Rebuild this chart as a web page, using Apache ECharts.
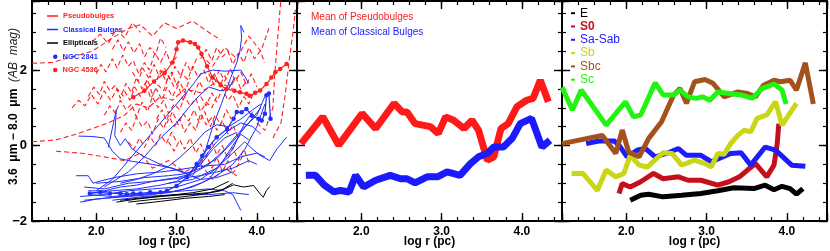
<!DOCTYPE html>
<html><head><meta charset="utf-8">
<script src="https://cdn.jsdelivr.net/npm/echarts@6/dist/echarts.min.js"></script>
<style>html,body{margin:0;padding:0;background:#fff}#c{width:830px;height:251px}</style>
</head><body><div id="c"></div>
<script>
// ---------------- DATA ----------------
// Panel 1: individual profiles  [log r, colour]
const pseudobulgeLines = [
  [[1.2,2.18],[1.45,2.2],[1.7,2.35],[1.95,2.5],[2.2,2.85],[2.4,3.1],[2.55,3.2],[2.7,2.9],[2.85,3.25],[3.0,3.1],[3.2,3.3],[3.4,3.0],[3.55,2.8]],
  [[1.2,0.1],[1.5,0.15],[1.75,0.3],[1.95,0.45],[2.15,0.6],[2.35,0.8],[2.5,1.1],[2.65,1.0],[2.8,1.3],[2.95,1.2],[3.1,1.5],[3.3,1.4],[3.5,1.7],[3.7,1.5]],
  [[1.5,-0.15],[1.8,-0.2],[2.1,-0.3],[2.35,-0.4],[2.55,-0.2],[2.7,-0.6],[2.9,-0.4],[3.1,-0.7],[3.3,-0.5],[3.45,-0.9],[3.6,-0.6],[3.75,-0.8]],
  [[2.0,1.9],[2.06,2.15],[2.12,1.95],[2.2,2.3],[2.26,2.05],[2.33,2.4],[2.4,2.1],[2.46,2.25],[2.53,1.9],[2.6,2.2],[2.66,2.0],[2.73,2.45],[2.8,2.2],[2.87,2.5],[2.93,2.15],[3.0,2.35]],
  [[1.9,1.3],[1.97,1.55],[2.04,1.35],[2.1,1.7],[2.17,1.45],[2.24,1.6],[2.3,1.25],[2.37,1.65],[2.44,1.4],[2.5,1.8],[2.57,1.5],[2.64,1.75],[2.7,1.35],[2.77,1.6],[2.84,1.45],[2.9,1.85],[2.97,1.55],[3.04,1.7],[3.1,1.4],[3.17,1.8]],
  [[2.1,0.8],[2.17,1.05],[2.24,0.85],[2.3,1.2],[2.37,0.95],[2.44,1.1],[2.5,0.75],[2.57,1.15],[2.64,0.9],[2.7,1.3],[2.77,1.0],[2.84,1.2],[2.9,0.85],[2.97,1.1],[3.04,0.95],[3.1,1.3],[3.17,1.05],[3.24,1.25],[3.3,0.9],[3.37,1.15],[3.44,1.0],[3.5,1.3]],
  [[2.3,0.35],[2.37,0.6],[2.44,0.4],[2.5,0.75],[2.57,0.5],[2.64,0.65],[2.7,0.3],[2.77,0.7],[2.84,0.45],[2.9,0.8],[2.97,0.5],[3.04,0.7],[3.1,0.35],[3.17,0.6],[3.24,0.4],[3.3,0.85],[3.37,0.55],[3.44,0.75],[3.5,0.4],[3.57,0.65],[3.64,0.3],[3.7,0.55],[3.77,0.2]],
  [[2.6,1.6],[2.67,1.85],[2.74,1.65],[2.8,2.0],[2.87,1.7],[2.94,1.95],[3.0,1.6],[3.07,1.9],[3.14,1.75],[3.2,2.1],[3.27,1.8],[3.34,2.0],[3.4,1.65],[3.47,1.9],[3.54,1.6],[3.6,1.85],[3.67,1.55],[3.74,1.8],[3.8,1.5],[3.87,1.7]],
  [[2.2,2.55],[2.27,2.8],[2.34,2.5],[2.4,2.75],[2.47,2.45],[2.54,2.7],[2.6,2.35],[2.67,2.6],[2.74,2.4],[2.8,2.85],[2.87,2.6]],
  [[3.3,2.3],[3.37,2.55],[3.44,2.25],[3.5,2.6],[3.57,2.35],[3.64,2.5],[3.7,2.15],[3.77,2.45],[3.84,2.2],[3.9,2.6],[3.97,2.3],[4.04,2.5],[4.1,2.2]],
  [[3.3,1.3],[3.37,1.05],[3.44,1.4],[3.5,1.15],[3.57,1.5],[3.64,1.2],[3.7,1.35],[3.77,1.0],[3.84,1.3],[3.9,1.1],[3.97,1.45]],
  [[2.9,0.1],[2.97,-0.15],[3.04,0.15],[3.1,-0.1],[3.17,0.2],[3.24,-0.2],[3.3,0.05],[3.37,-0.3],[3.44,0.1],[3.5,-0.25],[3.57,0.0],[3.64,-0.35],[3.7,-0.05],[3.77,-0.4],[3.84,-0.1],[3.9,-0.45]],
  [[1.7,1.0],[1.78,1.2],[1.86,1.05],[1.94,1.35],[2.02,1.1],[2.1,1.45],[2.18,1.2],[2.26,1.5],[2.34,1.3]],
  [[1.95,2.75],[2.05,2.95],[2.15,2.7],[2.25,3.1],[2.35,2.85],[2.45,3.25],[2.55,3.0]],
  [[3.3,-0.5],[3.37,-0.25],[3.44,-0.6],[3.5,-0.3],[3.57,-0.7],[3.64,-0.4],[3.7,-0.75],[3.77,-0.5],[3.84,-0.2]],
  [[2.4,0.1],[2.47,-0.1],[2.54,0.2],[2.6,-0.05],[2.67,0.25],[2.74,0.0],[2.8,0.3],[2.87,0.05],[2.94,0.35],[3.0,0.1]],
  [[2.35,1.45],[2.42,1.2],[2.48,1.55],[2.55,1.3],[2.62,1.6],[2.68,1.25],[2.75,1.5],[2.82,1.2],[2.88,1.55],[2.95,1.3],[3.02,1.6],[3.08,1.2],[3.15,1.5],[3.22,1.35],[3.28,1.7],[3.35,1.45]],
  [[2.75,0.7],[2.82,0.95],[2.88,0.6],[2.95,0.9],[3.02,0.55],[3.08,0.85],[3.15,0.65],[3.22,0.95],[3.28,0.6],[3.35,0.9],[3.42,0.5],[3.48,0.8],[3.55,0.55],[3.62,0.95],[3.68,0.7]],
  [[2.45,1.95],[2.52,1.7],[2.58,2.05],[2.65,1.8],[2.72,2.15],[2.78,1.85],[2.85,2.05],[2.92,1.75],[2.98,2.1],[3.05,1.85],[3.12,2.2],[3.18,1.95],[3.25,2.3]],
  [[3.4,1.9],[3.47,1.6],[3.53,2.0],[3.6,1.7],[3.67,2.05],[3.73,1.7],[3.8,1.95],[3.87,1.6],[3.93,1.9],[4.0,1.55]],
  [[4.0,0.6],[4.1,0.4],[4.2,1.0],[4.22,1.8],[4.25,2.6],[4.28,3.4],[4.3,3.85]],
  [[4.2,0.2],[4.3,0.6],[4.35,1.3],[4.4,2.2],[4.45,3.0],[4.48,3.6]],
  [[3.3,2.4],[3.45,2.1],[3.6,2.6],[3.75,2.3],[3.9,2.9],[4.05,2.5],[4.15,3.1]]
];
const classicalBulgeLines = [
  [[1.8,-1.5],[2.0,-1.42],[2.3,-1.35],[2.6,-1.3],[2.9,-1.25],[3.1,-1.15],[3.3,-1.0],[3.5,-0.8],[3.7,-0.5],[3.85,-0.1],[4.0,0.5],[4.1,1.1]],
  [[1.8,-1.35],[2.1,-1.3],[2.4,-1.2],[2.7,-1.15],[3.0,-1.1],[3.3,-0.9],[3.5,-0.6],[3.7,-0.1],[3.85,0.6],[3.95,0.9]],
  [[1.85,-1.1],[2.1,-1.15],[2.4,-1.0],[2.7,-0.95],[3.0,-0.85],[3.2,-0.75],[3.4,-0.5],[3.6,-0.1],[3.8,0.4],[4.0,0.8],[4.1,1.3]],
  [[2.0,-1.0],[2.3,-0.95],[2.6,-0.85],[2.9,-0.8],[3.1,-0.75],[3.3,-0.6],[3.5,-0.35],[3.7,0.1],[3.9,0.6],[4.05,1.0]],
  [[1.75,-0.8],[1.9,-0.8],[1.96,-1.0],[2.07,-0.93],[2.25,-0.84],[2.5,-0.75],[2.8,-0.7],[3.0,-0.65],[3.3,-0.55],[3.6,-0.5],[3.8,-0.3],[4.0,-0.2],[4.1,-0.3]],
  [[1.9,-1.3],[2.2,-1.35],[2.5,-1.3],[2.8,-1.25],[3.1,-1.2],[3.4,-1.15],[3.6,-1.2],[3.7,-1.3],[3.8,-1.72]],
  [[2.2,-1.45],[2.6,-1.35],[3.0,-1.3],[3.4,-1.3],[3.7,-1.25],[3.9,-1.3]],
  [[1.78,0.25],[1.95,0.24],[2.1,0.2],[2.2,-0.15],[2.3,-0.35],[2.45,-0.42],[2.7,-0.5],[2.95,-0.6],[3.15,-0.75],[3.3,-0.5],[3.45,-0.1],[3.6,0.2],[3.75,0.35]],
  [[2.15,-0.05],[2.25,0.95],[2.23,0.26],[2.3,0.0],[2.36,0.18],[2.45,-0.1],[2.6,-0.3],[2.8,-0.5],[3.0,-0.65],[3.15,-0.78],[3.3,-0.9],[3.5,-0.85],[3.7,-0.7]],
  [[2.0,-1.2],[2.2,-0.9],[2.4,-0.4],[2.6,0.1],[2.8,0.6],[3.0,1.1],[3.2,1.6],[3.3,1.9],[3.45,2.0],[3.6,1.97],[3.8,2.0],[3.9,1.65]],
  [[2.1,-1.1],[2.4,-0.7],[2.6,-0.3],[2.8,0.2],[3.0,0.6],[3.15,1.0],[3.25,1.25],[3.4,1.55],[3.55,1.45],[3.65,1.5],[3.72,1.8]],
  [[3.2,-0.8],[3.35,-0.2],[3.45,0.5],[3.56,1.11],[3.67,1.77],[3.75,2.2],[3.79,2.52],[3.81,2.85],[3.8,3.18],[3.84,3.0]],
  [[2.9,-1.0],[3.2,-0.9],[3.5,-0.6],[3.7,-0.2],[3.85,0.1],[3.95,-0.1],[4.04,-0.26],[4.16,-0.4],[4.25,-0.09],[4.37,0.22]],
  [[1.9,-1.2],[2.1,-1.2],[2.3,-1.1],[2.5,-1.05],[2.7,-0.95],[2.9,-0.9],[3.1,-0.85],[3.3,-0.8],[3.5,-0.7],[3.7,-0.6],[3.9,-0.4],[4.0,-0.5]],
  [[1.95,-1.25],[2.2,-1.2],[2.5,-1.15],[2.8,-1.05],[3.0,-0.95],[3.2,-0.7],[3.35,-0.3],[3.5,0.1],[3.65,0.4],[3.8,0.6],[3.95,0.5],[4.05,0.3]],
  [[1.85,-1.45],[2.1,-1.4],[2.4,-1.35],[2.7,-1.3],[3.0,-1.2],[3.2,-1.1],[3.4,-0.9],[3.55,-0.5],[3.7,0.0],[3.8,0.3],[3.9,0.15]],
  [[2.3,-1.0],[2.5,-0.9],[2.7,-0.75],[2.9,-0.55],[3.05,-0.3],[3.2,0.0],[3.35,0.35],[3.5,0.55],[3.65,0.5],[3.8,0.7],[3.95,0.95],[4.05,1.1]]
];
const ellipticalLines = [
  [[2.25,-1.5],[2.5,-1.42],[2.8,-1.35],[3.1,-1.3],[3.4,-1.25],[3.6,-1.15],[3.71,-1.04],[3.83,-1.1],[3.96,-1.06],[4.04,-1.28],[4.08,-1.37],[4.12,-1.19],[4.16,-1.09]],
  [[2.3,-1.45],[2.6,-1.38],[2.9,-1.32],[3.2,-1.25],[3.45,-1.15],[3.65,-0.95]],
  [[2.4,-1.5],[2.7,-1.43],[3.0,-1.38],[3.3,-1.3],[3.55,-1.2],[3.7,-1.0]],
  [[2.5,-1.55],[2.8,-1.48],[3.1,-1.4],[3.4,-1.35],[3.6,-1.3]]
];
const ngc2841 = [[1.92,-1.27],[2.05,-1.24],[2.17,-1.27],[2.30,-1.27],[2.38,-1.29],[2.46,-1.27],[2.55,-1.27],[2.67,-1.24],[2.80,-1.24],[2.88,-1.20],[3.00,-1.07],[3.13,-0.84],[3.25,-0.49],[3.32,-0.27],[3.40,-0.04],[3.50,0.22],[3.63,0.44],[3.71,0.71],[3.75,0.89],[3.81,0.88],[3.87,0.97],[3.94,0.79],[4.02,0.71],[4.06,0.66],[4.10,0.84],[4.12,1.33],[4.15,1.38],[4.17,0.71]];
const ngc4536 = [[2.46,1.28],[2.6,1.45],[2.72,1.7],[2.85,1.92],[2.95,2.2],[3.0,2.55],[3.02,2.74],[3.08,2.78],[3.17,2.74],[3.23,2.69],[3.27,2.6],[3.31,2.43],[3.38,2.1],[3.45,1.8],[3.55,1.6],[3.62,1.5],[3.72,1.45],[3.79,1.41],[3.87,1.37],[3.91,1.32],[3.98,1.4],[4.04,1.46],[4.12,1.63],[4.18,1.8],[4.23,1.94],[4.29,2.03],[4.37,2.16]];

// Panel 2: means
const meanPseudo = [[1.25,0.05],[1.52,0.76],[1.72,0.01],[2.01,0.85],[2.18,0.45],[2.41,1.12],[2.51,0.89],[2.57,0.89],[2.67,0.58],[2.86,0.50],[2.96,0.32],[3.05,0.76],[3.15,0.67],[3.28,0.45],[3.38,0.67],[3.46,0.41],[3.57,-0.39],[3.65,-0.30],[3.74,0.45],[3.83,0.58],[3.94,1.03],[4.06,1.20],[4.14,1.25],[4.23,1.73],[4.33,1.16]];
const meanClassical = [[1.31,-0.79],[1.43,-0.79],[1.54,-1.05],[1.66,-1.23],[1.74,-1.19],[1.85,-1.23],[1.93,-0.79],[2.03,-1.10],[2.18,-0.92],[2.36,-0.79],[2.49,-0.88],[2.57,-0.88],[2.67,-0.99],[2.82,-0.83],[2.95,-0.83],[3.07,-0.70],[3.23,-0.79],[3.36,-0.48],[3.46,-0.30],[3.57,-0.21],[3.65,-0.04],[3.77,-0.04],[3.88,0.19],[3.98,0.58],[4.12,0.72],[4.25,-0.04],[4.35,0.14]];

// Panel 3: by Hubble type
const typeE = [[2.05,-1.45],[2.18,-1.32],[2.28,-1.29],[2.46,-1.36],[2.69,-1.32],[2.93,-1.27],[3.14,-1.20],[3.34,-1.12],[3.59,-1.14],[3.73,-1.05],[3.84,-1.17],[3.94,-1.08],[4.04,-1.14],[4.12,-1.29],[4.20,-1.14]];
const typeS0 = [[1.91,-1.27],[1.95,-1.01],[2.05,-1.10],[2.18,-0.96],[2.34,-0.74],[2.46,-0.88],[2.65,-0.83],[2.77,-0.92],[2.93,-0.92],[3.14,-1.05],[3.28,-0.96],[3.41,-0.83],[3.51,-0.65],[3.61,-0.48],[3.75,-0.83],[3.84,-0.52],[3.88,0.05],[3.90,0.58]];
const typeSaSab = [[1.50,0.05],[1.66,0.12],[1.85,0.12],[1.91,0.01],[2.01,-0.30],[2.14,-0.12],[2.24,-0.08],[2.36,-0.30],[2.50,-0.21],[2.65,-0.08],[2.75,-0.26],[2.93,-0.26],[3.06,-0.43],[3.20,-0.30],[3.30,-0.21],[3.43,-0.19],[3.55,-0.52],[3.73,-0.04],[3.86,-0.12],[4.06,-0.52],[4.23,-0.55]];
const typeSb = [[1.32,-0.74],[1.46,-0.74],[1.64,-1.19],[1.75,-0.65],[1.87,-0.83],[1.97,-0.74],[2.05,-0.26],[2.16,-0.52],[2.26,-0.57],[2.46,-0.19],[2.57,-0.21],[2.69,-0.52],[2.85,-0.39],[2.98,-0.48],[3.06,-0.57],[3.14,-0.21],[3.22,-0.23],[3.30,0.05],[3.39,0.27],[3.47,0.41],[3.55,0.36],[3.63,0.72],[3.75,0.81],[3.86,1.16],[3.94,0.54],[4.12,1.12]];
const typeSbc = [[1.20,0.05],[1.70,0.27],[1.87,-0.21],[1.95,0.41],[2.03,-0.17],[2.16,-0.30],[2.28,0.19],[2.44,0.63],[2.59,1.34],[2.67,1.51],[2.75,1.12],[2.85,1.69],[2.98,1.75],[3.08,1.65],[3.22,1.29],[3.39,1.42],[3.51,1.38],[3.61,1.29],[3.71,1.60],[3.84,1.73],[3.92,1.69],[4.04,1.73],[4.12,1.47],[4.23,2.19],[4.33,1.10]];
const typeSc = [[1.20,1.54],[1.33,0.94],[1.44,1.47],[1.75,0.54],[1.99,1.16],[2.09,0.76],[2.18,0.81],[2.36,1.66],[2.46,1.34],[2.59,1.34],[2.67,1.47],[2.77,1.29],[2.87,1.25],[2.95,1.29],[3.04,1.20],[3.14,1.42],[3.28,1.38],[3.43,1.34],[3.57,1.25],[3.69,1.51],[3.84,1.63],[3.94,1.47],[3.99,1.10]];

const xTickLabels = ['2.0','3.0','4.0'];
const yTickLabels = {'-2':'\u22122','0':'0','2':'2'};

// ---------------- LAYOUT ----------------
const X_MIN = 1.2, X_MAX = 4.5, Y_MIN = -2, Y_MAX = 3.83;
const PANEL_LEFT = [32, 297, 562], PANEL_W = 265, PANEL_TOP = 1, PANEL_H = 220;
const FONT = '"Liberation Sans", Arial, Helvetica, sans-serif';
const RED = '#ff1f1f', BLUE = '#1f2dff', BLACK = '#000000';
const C_E = '#000000', C_S0 = '#c3101c', C_SA = '#1c1cff', C_SB = '#c9d616', C_SBC = '#a4521c', C_SC = '#22f411';

const grids = [], xAxes = [], yAxes = [], series = [], idx = [];
const lineAx = {show:true, onZero:false, lineStyle:{color:'#000', width:2}};
const tickMinor = {show:true, inside:true, length:4, lineStyle:{color:'#000', width:1.2}};
const tickMajor = {show:true, inside:true, length:8, lineStyle:{color:'#000', width:1.4}};

PANEL_LEFT.forEach((L, p) => {
  const gBase = {top:PANEL_TOP, height:PANEL_H, containLabel:false, outerBoundsMode:'none'};
  const gA = grids.length; grids.push(Object.assign({left:L, width:PANEL_W}, gBase));
  const gB = grids.length; grids.push(Object.assign({left:L, width:PANEL_W}, gBase));
  const cLeft = L + (2 - X_MIN) * PANEL_W / (X_MAX - X_MIN);
  const gC = grids.length; grids.push(Object.assign({left:cLeft, width:L + PANEL_W - cLeft}, gBase));

  const xi = xAxes.length;
  xAxes.push({type:'value', gridIndex:gA, position:'bottom', min:X_MIN, max:X_MAX, interval:0.2,
    axisLine:lineAx, axisTick:tickMinor, axisLabel:{show:false}, splitLine:{show:false},
    name:'log r (pc)', nameLocation:'middle', nameGap:15,
    nameTextStyle:{fontFamily:FONT, fontSize:12, fontWeight:'bold', color:'#000'}});
  xAxes.push({type:'value', gridIndex:gA, position:'top', min:X_MIN, max:X_MAX, interval:0.2,
    axisLine:lineAx, axisTick:tickMinor, axisLabel:{show:false}, splitLine:{show:false}});
  const yi = yAxes.length;
  const yA = {type:'value', gridIndex:gA, position:'left', min:Y_MIN, max:Y_MAX, interval:0.5,
    axisLine:lineAx, axisTick:tickMinor, axisLabel:{show:false}, splitLine:{show:false}};
  if (p === 0) {
    Object.assign(yA, {
      name:'{s| }{a|3.6  \u03bcm \u2212 8.0  \u03bcm}  {b|(AB  mag)}', nameLocation:'middle', nameGap:12,
      nameTextStyle:{color:'#000', rich:{
        s:{width:9},
        a:{fontFamily:FONT, fontSize:12, fontWeight:'bold', color:'#000'},
        b:{fontFamily:FONT, fontSize:12, fontStyle:'italic', color:'#222'}}}
    });
  }
  yAxes.push(yA);
  yAxes.push({type:'value', gridIndex:gA, position:'right', min:Y_MIN, max:Y_MAX, interval:0.5,
    axisLine:lineAx, axisTick:tickMinor, axisLabel:{show:false}, splitLine:{show:false}});

  // grid B: major y ticks
  xAxes.push({type:'value', gridIndex:gB, min:X_MIN, max:X_MAX, show:false});
  yAxes.push({type:'value', gridIndex:gB, position:'left', min:Y_MIN, max:Y_MAX, interval:2,
    axisLine:{show:false, onZero:false}, axisTick:tickMajor, splitLine:{show:false},
    axisLabel:{show:p === 0, margin:5, fontFamily:FONT, fontSize:13, fontWeight:'bold', color:'#000',
      formatter:v => { const k = String(Math.round(v*100)/100); return yTickLabels[k] || ''; }}});
  yAxes.push({type:'value', gridIndex:gB, position:'right', min:Y_MIN, max:Y_MAX, interval:2,
    axisLine:{show:false, onZero:false}, axisTick:tickMajor, axisLabel:{show:false}, splitLine:{show:false}});

  // grid C: major x ticks + labels
  xAxes.push({type:'value', gridIndex:gC, position:'bottom', min:2, max:X_MAX, interval:1,
    axisLine:{show:false, onZero:false}, axisTick:tickMajor, splitLine:{show:false},
    axisLabel:{margin:5, fontFamily:FONT, fontSize:12, fontWeight:'bold', color:'#000',
      formatter:v => { const i = Math.round(v) - 2; return (Math.abs(v - Math.round(v)) < 1e-6 && xTickLabels[i]) ? xTickLabels[i] : ''; }}});
  xAxes.push({type:'value', gridIndex:gC, position:'top', min:2, max:X_MAX, interval:1,
    axisLine:{show:false, onZero:false}, axisTick:tickMajor, axisLabel:{show:false}, splitLine:{show:false}});
  yAxes.push({type:'value', gridIndex:gC, min:Y_MIN, max:Y_MAX, show:false});

  idx.push({x:xi, y:yi});
});

function addLine(p, name, data, color, width, extra) {
  series.push(Object.assign({
    type:'line', name, data, xAxisIndex:idx[p].x, yAxisIndex:idx[p].y,
    symbol:'none', showSymbol:false, clip:true, silent:true, animation:false,
    lineStyle:{color, width}, itemStyle:{color}
  }, extra || {}));
}

// Panel 1
pseudobulgeLines.forEach(d => addLine(0, 'Pseudobulges', d, RED, 1.1, {lineStyle:{color:RED, width:1.1, type:[5,3]}}));
classicalBulgeLines.forEach(d => addLine(0, 'Classical Bulges', d, BLUE, 1));
ellipticalLines.forEach(d => addLine(0, 'Ellipticals', d, BLACK, 1));
addLine(0, 'NGC 2841', ngc2841, BLUE, 1.2, {symbol:'circle', showSymbol:true, symbolSize:4.5});
addLine(0, 'NGC 4536', ngc4536, RED, 1.2, {symbol:'circle', showSymbol:true, symbolSize:4.5});
// Panel 2
addLine(1, 'Mean of Pseudobulges', meanPseudo, '#ff1a1a', 7);
addLine(1, 'Mean of Classical Bulges', meanClassical, '#1a1aff', 7);
// Panel 3
addLine(2, 'E', typeE, C_E, 5);
addLine(2, 'S0', typeS0, C_S0, 5);
addLine(2, 'Sa-Sab', typeSaSab, C_SA, 5);
addLine(2, 'Sb', typeSb, C_SB, 5);
addLine(2, 'Sbc', typeSbc, C_SBC, 5);
addLine(2, 'Sc', typeSc, C_SC, 5);

const li = (name, color, extra) => Object.assign({name, textStyle:{color}, itemStyle:{color}}, extra || {});
const legBase = {orient:'vertical', padding:0, selectedMode:false, icon:'rect'};
const option = {
  backgroundColor:'#ffffff',
  animation:false,
  grid:grids, xAxis:xAxes, yAxis:yAxes, series,
  legend:[
    Object.assign({}, legBase, {left:47, top:11, itemWidth:11, itemHeight:1.5, itemGap:3.5,
      textStyle:{fontFamily:FONT, fontSize:7.5, fontWeight:'bold', lineHeight:10},
      data:[li('Pseudobulges', RED), li('Classical Bulges', BLUE), li('Ellipticals', BLACK)]}),
    Object.assign({}, legBase, {left:53, top:51.7, icon:'circle', itemWidth:4.5, itemHeight:4.5, itemGap:3.3,
      textStyle:{fontFamily:FONT, fontSize:7.5, fontWeight:'bold', lineHeight:10},
      data:[li('NGC 2841', BLUE), li('NGC 4536', RED)]}),
    Object.assign({}, legBase, {left:306, top:11.3, itemWidth:0, itemHeight:0, itemGap:2.5,
      textStyle:{fontFamily:FONT, fontSize:10, lineHeight:12},
      data:[li('Mean of Pseudobulges', '#ff1a1a'), li('Mean of Classical Bulges', '#1a1aff')]}),
    Object.assign({}, legBase, {left:571, top:6.7, itemWidth:4, itemHeight:2, itemGap:0.3,
      textStyle:{fontFamily:FONT, fontSize:12, lineHeight:13},
      data:[li('E', C_E), li('S0', C_S0, {textStyle:{color:C_S0, fontWeight:'bold'}}), li('Sa-Sab', C_SA), li('Sb', C_SB), li('Sbc', C_SBC), li('Sc', C_SC)]})
  ]
};
const chart = echarts.init(document.getElementById('c'), null, {renderer:'canvas'});
chart.setOption(option);
</script></body></html>
